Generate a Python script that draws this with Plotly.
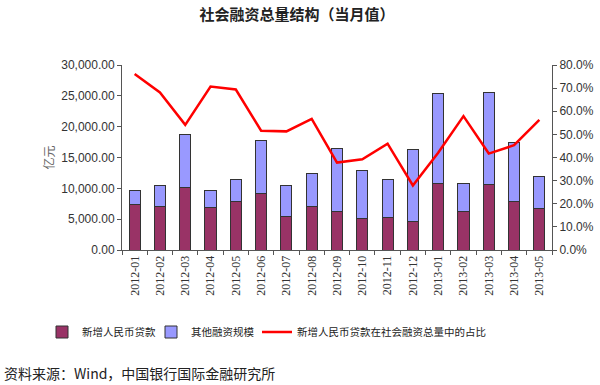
import plotly.graph_objects as go

months = ["2012-01", "2012-02", "2012-03", "2012-04", "2012-05", "2012-06",
          "2012-07", "2012-08", "2012-09", "2012-10", "2012-11", "2012-12",
          "2013-01", "2013-02", "2013-03", "2013-04", "2013-05"]
new_loans = [7381, 7107, 10114, 6818, 7932, 9198, 5401, 7039, 6232, 5053,
             5229, 4543, 10721, 6200, 10625, 7929, 6674]
other_financing = [2319, 3324, 8590, 2819, 3497, 8620, 5121, 5367, 10253, 7853,
                   6126, 11739, 14725, 4505, 14850, 9562, 5185]
loan_share = [0.761, 0.681, 0.541, 0.707, 0.694, 0.516, 0.513, 0.567, 0.378,
              0.392, 0.460, 0.279, 0.421, 0.579, 0.417, 0.453, 0.563]

cjk = "Noto Sans CJK SC"

fig = go.Figure()
fig.add_trace(go.Bar(x=months, y=new_loans, name="新增人民币贷款",
                     marker=dict(color="#993366", line=dict(color="#333333", width=1))))
fig.add_trace(go.Bar(x=months, y=other_financing, name="其他融资规模",
                     marker=dict(color="#9999FF", line=dict(color="#333333", width=1))))
fig.add_trace(go.Scatter(x=months, y=loan_share, name="新增人民币贷款在社会融资总量中的占比",
                         yaxis="y2", mode="lines", line=dict(color="#FF0000", width=2.5),
                         legend="legend2"))

legend_font = dict(family=cjk, size=10.5, color="#222222")
legend_y = (250 - 332) / 185

fig.update_layout(
    width=600, height=385,
    paper_bgcolor="white", plot_bgcolor="white",
    margin=dict(l=122, r=48, t=65, b=135, autoexpand=False),
    barmode="stack", bargap=0.56,
    showlegend=True,
    title=dict(text="<b>社会融资总量结构（当月值）</b>", x=0.495, xanchor="center",
               y=1 - 15 / 385, yanchor="middle",
               font=dict(family=cjk, size=15, color="#222222")),
    legend=dict(orientation="h", x=(42 - 122) / 430, xanchor="left",
                y=legend_y, yanchor="middle", font=legend_font,
                traceorder="normal", itemwidth=30,
                entrywidth=64, entrywidthmode="pixels"),
    legend2=dict(orientation="h", x=(257 - 122) / 430, xanchor="left",
                 y=legend_y, yanchor="middle", font=legend_font, itemwidth=30),
    xaxis=dict(type="category", tickangle=-90,
               tickfont=dict(family="Liberation Serif", size=12, color="#333333"),
               showline=True, linecolor="#555555", linewidth=1,
               ticks="outside", ticklen=4, tickcolor="#555555",
               tickson="boundaries", showgrid=False),
    yaxis=dict(range=[0, 30000], dtick=5000, tickformat=",.2f",
               tickfont=dict(family="Liberation Sans", size=12, color="#333333"),
               showline=True, linecolor="#555555", linewidth=1,
               ticks="outside", ticklen=4, tickcolor="#555555",
               showgrid=False, zeroline=False),
    yaxis2=dict(range=[0, 0.8], dtick=0.1, tickformat=".1%", overlaying="y", side="right",
                tickfont=dict(family="Liberation Sans", size=12, color="#333333"),
                showline=True, linecolor="#555555", linewidth=1,
                ticks="outside", ticklen=4, tickcolor="#555555",
                showgrid=False, zeroline=False),
)

fig.add_annotation(text="亿元", xref="paper", yref="paper",
                   x=(37 - 122) / 430, y=(250 - 158) / 185, textangle=-90,
                   showarrow=False, font=dict(family=cjk, size=12, color="#666666"))
fig.add_annotation(text="资料来源：Wind，中国银行国际金融研究所", xref="paper", yref="paper",
                   x=(2 - 122) / 430, y=(250 - 373) / 185, xanchor="left", yanchor="middle",
                   showarrow=False, font=dict(family=cjk, size=14, color="#222222"))

fig.write_html("out.html", config={"displayModeBar": False},
               post_script="document.body.style.margin='0';")
